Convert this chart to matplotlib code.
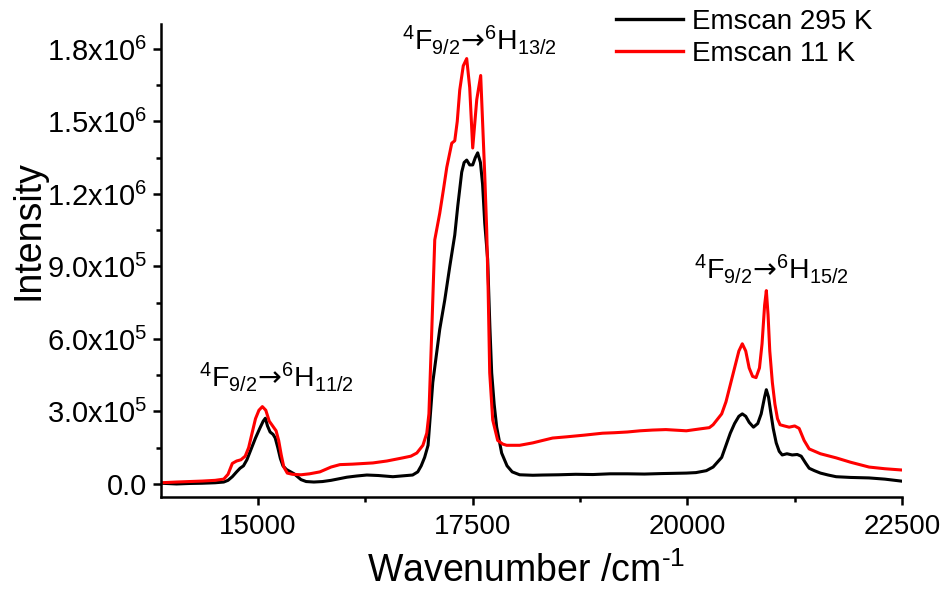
import numpy as np
import matplotlib
matplotlib.use("Agg")
import matplotlib.pyplot as plt
from matplotlib.ticker import FixedLocator, FixedFormatter, MultipleLocator

plt.rcParams['font.family'] = ['Liberation Sans', 'DejaVu Sans']
plt.rcParams['mathtext.fontset'] = 'custom'
plt.rcParams['mathtext.rm'] = 'Liberation Sans'
plt.rcParams['mathtext.it'] = 'Liberation Sans:italic'
plt.rcParams['mathtext.bf'] = 'Liberation Sans:bold'
plt.rcParams['mathtext.sf'] = 'DejaVu Sans'

# emission spectra (wavenumber in cm-1, intensity in 1e5 counts)
x_295 = [13870, 14050, 14200, 14350, 14500, 14600, 14650, 14700, 14750, 14790,
         14830, 14870, 14920, 14970, 15020, 15060, 15085, 15110, 15140, 15175,
         15200, 15230, 15260, 15290, 15330, 15380, 15420, 15460, 15500, 15560,
         15650, 15750, 15850, 15950, 16035, 16150, 16267, 16400, 16570, 16700,
         16800, 16860, 16900, 16940, 16980, 17035, 17116, 17174, 17233, 17291,
         17326, 17372, 17400, 17430, 17465, 17500, 17530, 17558, 17590, 17615,
         17640, 17674, 17700, 17721, 17750, 17779, 17837, 17900, 17960, 18047,
         18200, 18314, 18500, 18700, 18900, 19100, 19300, 19500, 19700, 19850,
         19988, 20100, 20221, 20300, 20400, 20450, 20500, 20550, 20600, 20640,
         20680, 20720, 20770, 20820, 20860, 20900, 20920, 20945, 20970, 21000,
         21035, 21070, 21105, 21160, 21221, 21280, 21326, 21380, 21419, 21480,
         21550, 21640, 21733, 21900, 22116, 22300, 22488]
y_295 = [0.03, 0.0, 0.02, 0.03, 0.05, 0.08, 0.15, 0.3, 0.5, 0.65,
         0.75, 1.0, 1.45, 1.9, 2.3, 2.6, 2.72, 2.4, 2.15, 2.05,
         1.9, 1.5, 1.05, 0.75, 0.6, 0.5, 0.42, 0.3, 0.18, 0.1,
         0.08, 0.1, 0.15, 0.22, 0.28, 0.33, 0.37, 0.35, 0.3, 0.34,
         0.37, 0.5, 0.75, 1.1, 1.6, 4.2, 6.4, 7.6, 9.0, 10.3,
         11.5, 12.9, 13.3, 13.4, 13.2, 13.2, 13.5, 13.7, 13.3, 12.4,
         10.8, 9.3, 6.5, 4.6, 3.3, 2.36, 1.28, 0.75, 0.5, 0.38,
         0.36, 0.37, 0.38, 0.4, 0.39, 0.42, 0.42, 0.41, 0.43, 0.44,
         0.45, 0.47, 0.55, 0.7, 1.1, 1.6, 2.1, 2.5, 2.8, 2.9,
         2.8, 2.55, 2.35, 2.5, 2.9, 3.6, 3.9, 3.6, 3.0, 2.3,
         1.7, 1.35, 1.2, 1.25, 1.2, 1.22, 1.15, 0.85, 0.65, 0.55,
         0.45, 0.37, 0.3, 0.27, 0.25, 0.2, 0.12]

x_11 = [13870, 14050, 14200, 14350, 14500, 14600, 14650, 14700, 14750, 14800,
        14850, 14890, 14930, 14970, 15010, 15050, 15090, 15130, 15170, 15210,
        15240, 15270, 15300, 15340, 15400, 15500, 15600, 15720, 15850, 15953,
        16100, 16337, 16500, 16686, 16780, 16849, 16920, 16965, 16990, 17020,
        17058, 17116, 17160, 17198, 17256, 17291, 17320, 17349, 17390, 17430,
        17465, 17500, 17547, 17593, 17616, 17640, 17663, 17680, 17698, 17733,
        17791, 17850, 17895, 18047, 18200, 18314, 18430, 18593, 18800, 19012,
        19150, 19300, 19450, 19593, 19750, 19988, 20150, 20256, 20300, 20400,
        20450, 20500, 20550, 20600, 20640, 20680, 20720, 20760, 20800, 20840,
        20870, 20900, 20920, 20940, 20960, 20990, 21020, 21050, 21080, 21130,
        21186, 21250, 21302, 21360, 21419, 21550, 21733, 21900, 22116, 22300,
        22488]
y_11 = [0.05, 0.08, 0.1, 0.12, 0.15, 0.2, 0.4, 0.85, 0.95, 1.0,
        1.15, 1.5, 2.1, 2.7, 3.05, 3.2, 3.05, 2.6, 2.4, 2.2,
        1.8, 1.2, 0.7, 0.45, 0.4, 0.38, 0.42, 0.5, 0.7, 0.8,
        0.82, 0.87, 0.95, 1.08, 1.15, 1.28, 1.6, 2.1, 2.9, 6.0,
        10.1, 11.2, 12.2, 13.1, 14.1, 14.2, 15.0, 16.3, 17.3, 17.6,
        16.4, 13.9, 15.9, 16.9, 14.9, 12.8, 10.5, 8.0, 4.6, 2.65,
        1.8, 1.65, 1.6, 1.6, 1.7, 1.8, 1.9, 1.95, 2.02, 2.1,
        2.12, 2.15, 2.2, 2.23, 2.25, 2.2, 2.28, 2.33, 2.45, 2.9,
        3.4, 4.1, 4.8, 5.5, 5.8, 5.5, 4.8, 4.45, 4.4, 4.8,
        5.8, 7.4, 8.0, 7.0, 5.5, 4.2, 3.3, 2.7, 2.45, 2.4,
        2.35, 2.4, 2.3, 1.8, 1.45, 1.25, 1.08, 0.9, 0.7, 0.63,
        0.58]

series_labels = ['Emscan 295 K', 'Emscan 11 K']
y_ticks = [0, 3e5, 6e5, 9e5, 1.2e6, 1.5e6, 1.8e6]
y_ticklabels = ['0.0', '3.0x10$^{5}$', '6.0x10$^{5}$', '9.0x10$^{5}$',
                '1.2x10$^{6}$', '1.5x10$^{6}$', '1.8x10$^{6}$']
x_ticks = [15000, 17500, 20000, 22500]

# transition labels: (text, x, baseline y)
arrow = '$\\mathsf{\u2192}$'
transitions = [
    ('$^{4}$F$_{9/2}$' + arrow + '$^{6}$H$_{11/2}$', 15210, 4.0e5),
    ('$^{4}$F$_{9/2}$' + arrow + '$^{6}$H$_{13/2}$', 17578, 1.795e6),
    ('$^{4}$F$_{9/2}$' + arrow + '$^{6}$H$_{15/2}$', 20984, 8.48e5),
]

fig = plt.figure(figsize=(9.44, 5.90), dpi=100)
ax = fig.add_axes([0.1706, 0.1576, 0.7849, 0.8017])

ax.plot(x_295, np.array(y_295) * 1e5, color='black', lw=2.2, label=series_labels[0])
ax.plot(x_11, np.array(y_11) * 1e5, color='#ff0000', lw=2.2, label=series_labels[1])

ax.set_xlim(13870, 22500)
ax.set_ylim(-5.4e4, 1.903e6)

for s in ['top', 'right']:
    ax.spines[s].set_visible(False)
for s in ['left', 'bottom']:
    ax.spines[s].set_linewidth(1.8)

ax.xaxis.set_major_locator(FixedLocator(x_ticks))
ax.xaxis.set_minor_locator(MultipleLocator(1250))
ax.yaxis.set_major_locator(FixedLocator(y_ticks))
ax.yaxis.set_major_formatter(FixedFormatter(y_ticklabels))
ax.yaxis.set_minor_locator(MultipleLocator(1.5e5))
ax.tick_params(which='major', direction='out', length=6, width=1.8, labelsize=20, pad=4)
ax.tick_params(axis='y', which='major', labelsize=21)
ax.tick_params(which='minor', direction='out', length=3.5, width=1.8)
ax.tick_params(axis='x', which='major', pad=6)

ax.set_xlabel('Wavenumber /cm$^{\\text{-1}}$', fontsize=27, va='baseline')
ax.xaxis.set_label_coords(0.493, -0.18)
ax.set_ylabel('Intensity', fontsize=27, va='baseline')
ax.yaxis.set_label_coords(-0.165, 0.565)

for txt, tx, ty in transitions:
    ax.text(tx, ty, txt, fontsize=20.5, ha='center', va='baseline')

leg = ax.legend(loc='upper left', bbox_to_anchor=(616 / 944, 1 - 9 / 590),
                bbox_transform=fig.transFigure, frameon=False, fontsize=20,
                handlelength=2.4, handletextpad=0.32, labelspacing=0.2,
                borderpad=0, borderaxespad=0)
for line in leg.get_lines():
    line.set_linewidth(2.4)

fig.savefig('out.png', dpi=100)
